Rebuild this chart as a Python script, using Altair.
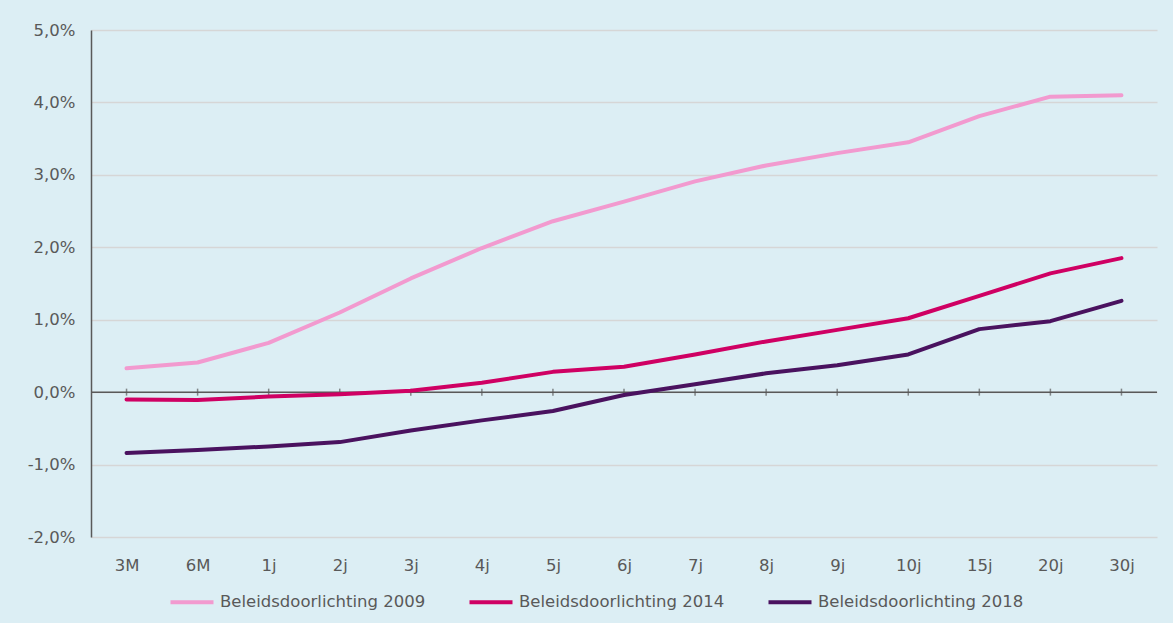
import altair as alt
import pandas as pd

cats = ["3M", "6M", "1j", "2j", "3j", "4j", "5j", "6j", "7j", "8j", "9j", "10j", "15j", "20j", "30j"]
series_names = ["Beleidsdoorlichting 2009", "Beleidsdoorlichting 2014", "Beleidsdoorlichting 2018"]
s2009 = [0.33, 0.41, 0.68, 1.10, 1.57, 1.99, 2.36, 2.63, 2.91, 3.13, 3.30, 3.45, 3.81, 4.08, 4.10]
s2014 = [-0.10, -0.11, -0.06, -0.03, 0.02, 0.13, 0.28, 0.35, 0.52, 0.70, 0.86, 1.02, 1.33, 1.64, 1.85]
s2018 = [-0.84, -0.80, -0.75, -0.69, -0.53, -0.39, -0.26, -0.04, 0.11, 0.26, 0.37, 0.52, 0.87, 0.98, 1.26]
y_ticks = [-2, -1, 0, 1, 2, 3, 4, 5]
colors = ["#F29ACF", "#CF0063", "#4A125F"]

W, H = 1066, 507
TXT = "#595959"
FONT = "DejaVu Sans"

rows = []
for name, vals in zip(series_names, [s2009, s2014, s2018]):
    for c, v in zip(cats, vals):
        rows.append({"cat": c, "value": v, "series": name})
df = pd.DataFrame(rows)
cat_df = pd.DataFrame({"cat": cats, "zero": [0] * len(cats)})

xscale = alt.Scale(type="point", domain=cats, padding=0.5)
yscale = alt.Scale(domain=[-2, 5], nice=False, zero=False)

xaxis = alt.Axis(domain=False, ticks=False, grid=False, labelAngle=0, labelAlign="center",
                 labelFlush=False, labelColor=TXT, labelFont=FONT, labelFontSize=16.5, labelPadding=20)

lines = alt.Chart(df).mark_line(strokeWidth=4, strokeCap="round", strokeJoin="round").encode(
    x=alt.X("cat:N", scale=xscale, sort=cats, title=None, axis=xaxis),
    y=alt.Y("value:Q", scale=yscale, title=None,
            axis=alt.Axis(values=y_ticks, ticks=False, domain=True, domainColor=TXT, domainWidth=1.5,
                          grid=True, gridColor="#D6D6D6", gridWidth=1.5,
                          labelColor=TXT, labelFont=FONT, labelFontSize=16.5, labelPadding=16,
                          labelExpr="replace(replace(format(datum.value, '.1f'), '.', ','), '\u2212', '-') + '%'")),
    color=alt.Color("series:N", scale=alt.Scale(domain=series_names, range=colors), title=None,
                    legend=alt.Legend(orient="none", direction="horizontal", legendX=77, legendY=548,
                                      symbolType="stroke", symbolSize=1850, symbolStrokeWidth=4,
                                      labelColor=TXT, labelFont=FONT, labelFontSize=16.5,
                                      labelLimit=400, labelOffset=4, columnPadding=35)),
)

zero_rule = alt.Chart(pd.DataFrame({"zero": [0]})).mark_rule(color=TXT, strokeWidth=1.5).encode(
    x=alt.value(0), x2=alt.value(W), y=alt.Y("zero:Q", scale=yscale)
)

zero_ticks = alt.Chart(cat_df).mark_tick(color=TXT, thickness=1.5, size=7, orient="vertical").encode(
    x=alt.X("cat:N", scale=xscale, sort=cats, title=None, axis=xaxis),
    y=alt.Y("zero:Q", scale=yscale),
)

chart = alt.layer(zero_rule, zero_ticks, lines).properties(
    width=W, height=H,
    background="#DCEEF4",
    padding={"left": 91, "top": 30, "right": 16, "bottom": 86},
    autosize=alt.AutoSizeParams(type="none"),
).configure_view(stroke=None)

chart.save("out.html", embed_options={"renderer": "svg", "actions": False})
